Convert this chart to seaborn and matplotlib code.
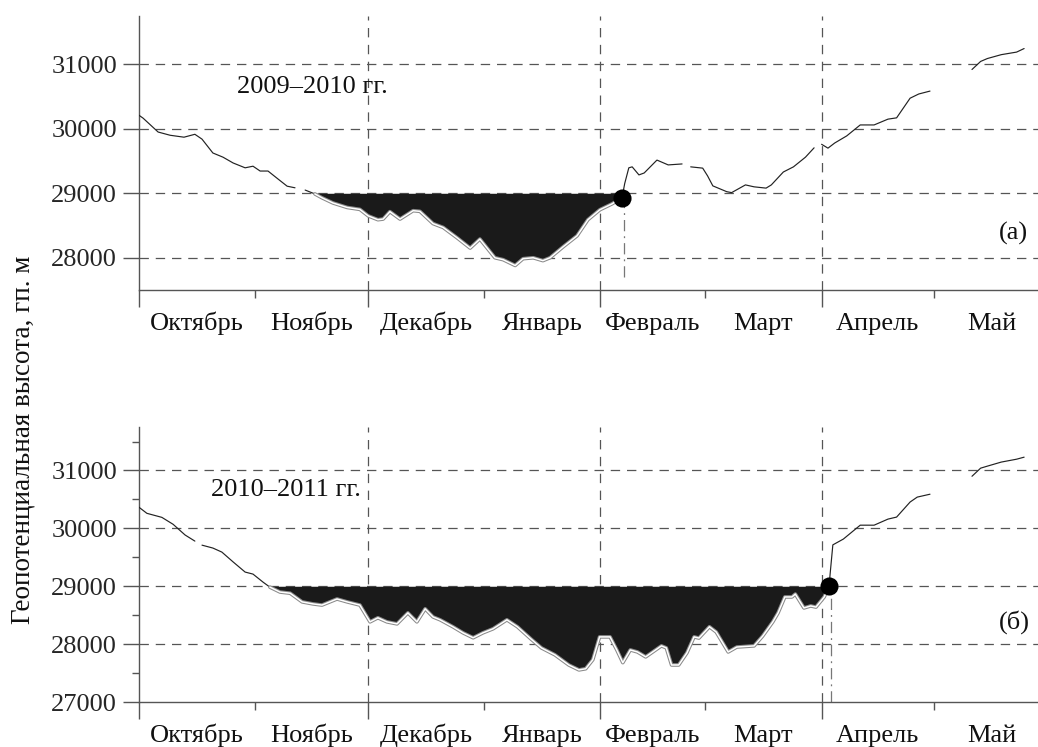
import numpy as np
import pandas as pd
import matplotlib
matplotlib.use("Agg")
import matplotlib.pyplot as plt
import seaborn as sns

sns.set_theme(style="white")
plt.rcParams["font.family"] = ["Liberation Serif", "DejaVu Serif"]
plt.rcParams["axes.unicode_minus"] = False

nan = np.nan

# Season axis: day 0 = 1 October
months = ["Октябрь", "Ноябрь", "Декабрь", "Январь", "Февраль", "Март", "Апрель", "Май"]
month_starts = [0, 31, 61, 92, 123, 151, 182, 212, 243]
grid_days = [61, 123, 182]          # 1 Dec, 1 Feb, 1 Apr
threshold = 29000                   # gp. m

# 2009–2010 season
days_a = [0, 1.1, 5.1, 8.3, 12, 14.9, 16.8, 19.7, 22.4, 25.1, 28.3, 30.4, 32.3, 34.4, 37.1,
          39.5, 41.6, nan, 44.3, 46.9, 48.8, 51.7, 55.5, 58.9, 61.1, 63.7, 65.1, 66.9, 69.6,
          73.1, 74.9, 78.4, 81.1, 84.8, 88.3, 90.9, 94.9, 97.1, 100.3, 102.4, 105.1, 107.7,
          109.6, 113.1, 116.8, 119.7, 122.9, 126.1, 128.8, 129.5, 130.6, 131.5, 133.3, 134.7,
          138.1, 141.1, 144.8, nan, 147.1, 150.3, 151.6, 153, 156.7, 158, 161.7, 164, 167.2,
          168.6, 171.8, 174.5, 177.7, 180, nan, 182, 183.7, 185.5, 188.7, 192.3, 196, 199.7,
          202, 205.6, 207.9, 210.9, nan, 222.1, 224.4, 226.2, 229.9, 234, 236]
z_a = [30210, 30165, 29950, 29900, 29870, 29915, 29840, 29625, 29560, 29470, 29395, 29420,
       29345, 29345, 29220, 29110, 29085, nan, 29050, 28990, 28930, 28850, 28780, 28750, 28650,
       28590, 28600, 28715, 28600, 28730, 28720, 28530, 28470, 28310, 28150, 28290, 28000,
       27970, 27880, 27985, 28000, 27955, 28000, 28170, 28340, 28590, 28745, 28835, 28930,
       29150, 29395, 29410, 29285, 29315, 29515, 29440, 29455, nan, 29410, 29390, 29270,
       29115, 29025, 29010, 29130, 29100, 29080, 29130, 29330, 29410, 29560, 29705, nan,
       29760, 29700, 29780, 29890, 30060, 30060, 30150, 30170, 30475, 30540, 30585, nan,
       30920, 31045, 31090, 31150, 31190, 31245]
below_a = (46.9, 128.8)             # days the height stays below the threshold
onset_a = (128.8, 28930)            # end of the low-height period

# 2010–2011 season
days_b = [0, 2.1, 6.1, 9.1, 12.3, 14.9, nan, 16.8, 19.7, 22.1, 25.1, 28.3, 30.4, 33.1, 34.9,
          37.6, 40.3, 43.5, 46.4, 48.8, 52.8, 55.5, 58.9, 61.6, 63.7, 66.1, 68.8, 71.7, 74.1,
          76.3, 78.4, 80.3, 83.7, 86.4, 89.1, 91.7, 94.4, 98.1, 100.9, 104.5, 107.3, 110.9,
          114.6, 117.3, 119.1, 121, 122.8, 125.6, 127.4, 129, 131, 132.9, 135.1, 139.3, 140.6,
          142, 143.9, 146.1, 148, 149.3, 152.1, 153.9, 157.1, 159.4, 164, 166.3, 169, 170.4,
          172.2, 174.1, 175, 177.3, 179.1, 180.5, 182.7, 184, 184.3, 185, 187.8, 192.3, 196,
          199.7, 202, 205.6, 207.5, 210.9, nan, 222.1, 224.4, 226.2, 229.9, 234, 236]
z_b = [30365, 30260, 30190, 30070, 29885, 29780, nan, 29710, 29660, 29590, 29420, 29245,
       29210, 29070, 28985, 28900, 28880, 28730, 28695, 28675, 28780, 28730, 28675, 28385,
       28455, 28385, 28350, 28540, 28385, 28610, 28470, 28420, 28300, 28195, 28110, 28195,
       28265, 28420, 28300, 28090, 27935, 27815, 27640, 27555, 27575, 27730, 28125, 28125,
       27900, 27680, 27900, 27865, 27780, 27970, 27935, 27640, 27640, 27850, 28125, 28105,
       28300, 28210, 27865, 27950, 27970, 28140, 28385, 28540, 28815, 28815, 28865, 28625,
       28660, 28640, 28815, 29000, 29230, 29715, 29815, 30055, 30055, 30160, 30195, 30455,
       30540, 30590, nan, 30900, 31040, 31075, 31145, 31195, 31230]
below_b = (34.9, 184)
onset_b = (184, 29000)

GRID = "#555555"
INK = "#222222"
FILL = "#1a1a1a"
FS = 19
PX = 72 / 100  # points per pixel


def season_frame(days, z):
    df = pd.DataFrame({"day": days, "z": z})
    df["seg"] = df["z"].isna().cumsum()
    return df.dropna().reset_index(drop=True)


def draw_panel(ax, days, z, below, onset, ylim, yticks, season, tag, season_pos,
               tag_pos, drop_to):
    df = season_frame(days, z)
    ax.set_xlim(0, 239.7)
    ax.set_ylim(*ylim)

    # dashed grid
    for v in yticks:
        if v > ylim[0]:
            ax.axhline(v, color=GRID, lw=0.9, ls=(0, (7.5, 5.5)), zorder=1)
    for d in grid_days:
        ax.axvline(d, color=GRID, lw=0.9, ls=(0, (7.5, 6)), zorder=1)

    # height curve, broken at missing days
    sns.lineplot(data=df, x="day", y="z", units="seg", estimator=None, sort=False,
                 color=INK, lw=0.85, ax=ax, zorder=3)

    # period below the threshold
    seg = df[(df["day"] >= below[0]) & (df["day"] <= below[1])]
    ax.fill_between(seg["day"], seg["z"], threshold, color=FILL, lw=0, zorder=4)
    sns.lineplot(data=seg, x="day", y="z", estimator=None, sort=False,
                 color="#8a8a8a", lw=2.6, ax=ax, zorder=5)
    sns.lineplot(data=seg, x="day", y="z", estimator=None, sort=False,
                 color="white", lw=1.1, ax=ax, zorder=6)

    # end of the period
    ax.plot([onset[0] + 0.6, onset[0] + 0.6], [drop_to, onset[1]], color="#777777",
            lw=0.9, ls=(0, (9, 4, 1.5, 4)), zorder=2)
    ax.scatter([onset[0]], [onset[1]], s=170, color="black", zorder=7, linewidths=0)

    # axes styling
    for s in ("top", "right"):
        ax.spines[s].set_visible(False)
    for s in ("left", "bottom"):
        ax.spines[s].set_color("#555555")
        ax.spines[s].set_linewidth(1.0)
    ax.set_xlabel("")
    ax.set_ylabel("")

    ax.set_yticks(yticks)
    ax.set_yticklabels([str(v) for v in yticks])
    ax.set_yticks(np.arange(ylim[0] + 500 if ylim[0] % 1000 else ylim[0] + 500,
                            ylim[1], 1000), minor=True)
    ax.tick_params(axis="y", which="major", length=16 * PX, width=1.0, color="#555555",
                   pad=6 * PX, labelsize=FS, direction="out", left=True)
    ax.tick_params(axis="y", which="minor", length=7 * PX, width=1.0, color="#555555",
                   direction="out", left=True)

    ax.set_xticks(month_starts[0:8:2])
    ax.set_xticks(month_starts[1:8:2], minor=True)
    ax.set_xticklabels([])
    ax.tick_params(axis="x", which="major", length=17 * PX, width=1.0, color="#555555",
                   direction="out", bottom=True)
    ax.tick_params(axis="x", which="minor", length=8 * PX, width=1.0, color="#555555",
                   direction="out", bottom=True)

    for i, name in enumerate(months):
        mid = (month_starts[i] + month_starts[i + 1]) / 2
        ax.annotate(name, xy=(mid, 0), xycoords=("data", "axes fraction"),
                    xytext=(0, -40 * PX), textcoords="offset points",
                    ha="center", va="baseline", fontsize=FS, color="#111111",
                    annotation_clip=False)

    ax.text(season_pos[0], season_pos[1], season, transform=ax.transAxes,
            ha="left", va="center", fontsize=FS, color="#111111")
    ax.text(tag_pos[0], tag_pos[1], tag, transform=ax.transAxes,
            ha="right", va="center", fontsize=FS, color="#111111")


fig = plt.figure(figsize=(10.38, 7.47), dpi=100)
ax_a = fig.add_axes([0.1339, 0.6118, 0.8661, 0.3668])
ax_b = fig.add_axes([0.1339, 0.0602, 0.8661, 0.3681])

draw_panel(ax_a, days_a, z_a, below_a, onset_a, (27500, 31750),
           [28000, 29000, 30000, 31000], "2009–2010 гг.", "(а)",
           (0.109, 0.741), (0.989, 0.208), 27700)
draw_panel(ax_b, days_b, z_b, below_b, onset_b, (27000, 31750),
           [27000, 28000, 29000, 30000, 31000], "2010–2011 гг.", "(б)",
           (0.080, 0.771), (0.991, 0.291), 27000)

fig.text(0.022, 0.411, "Геопотенциальная высота, гп. м", rotation=90,
         ha="center", va="center", fontsize=19.5, color="#111111")

fig.savefig("out.png", dpi=100)
